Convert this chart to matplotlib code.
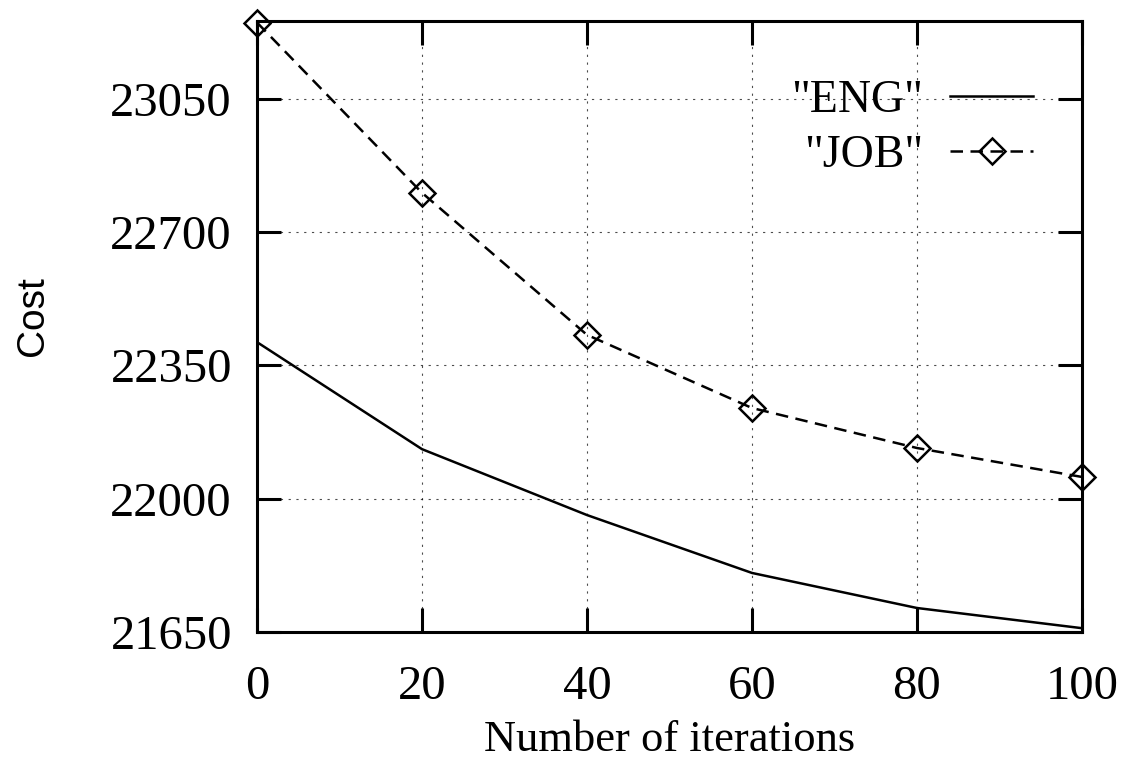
import matplotlib.pyplot as plt

iterations = [0, 20, 40, 60, 80, 100]
eng_cost = [22411, 22130, 21957, 21805, 21713, 21660]
job_cost = [23250, 22803, 22430, 22238, 22133, 22057]
y_ticks = [21650, 22000, 22350, 22700, 23050]
x_ticks = [0, 20, 40, 60, 80, 100]

plt.rcParams["font.family"] = "Liberation Serif"

fig = plt.figure(figsize=(11.24, 7.63), dpi=100)
ax = fig.add_axes([257 / 1124, 1 - 632 / 763, (1082 - 257) / 1124, (632 - 21) / 763])

ax.plot(iterations, eng_cost, "-", color="black", lw=1.8, label='"ENG"')
ax.plot(iterations, job_cost, "--", color="black", lw=1.8, dashes=(5, 3),
        marker="D", markersize=13, mfc="none", mec="black", mew=1.8,
        label='"JOB"', clip_on=False)

ax.set_xlim(0, 100)
ax.set_ylim(21650, 23254)
ax.set_xticks(x_ticks)
ax.set_yticks(y_ticks)
ax.tick_params(direction="in", length=17, width=2.2, top=True, right=True,
               labelsize=35)
ax.tick_params(axis="x", pad=24)
ax.tick_params(axis="y", pad=18)
for s in ax.spines.values():
    s.set_linewidth(2.2)
ax.grid(True, linestyle=(0, (2, 5)), color="black", lw=0.8, alpha=0.7)

ax.set_xlabel("Number of iterations", fontsize=32, labelpad=8)
ax.set_ylabel("Cost", fontsize=28, family="Liberation Sans")
ax.yaxis.set_label_coords(-0.25, 0.517)

ax.legend(loc="upper right", bbox_to_anchor=(0.9406, 0.905), frameon=False,
          markerfirst=False, fontsize=33, handlelength=1.8, labelspacing=0.28,
          handletextpad=0.6, borderpad=0, borderaxespad=0)

fig.savefig("out.png", dpi=100)
